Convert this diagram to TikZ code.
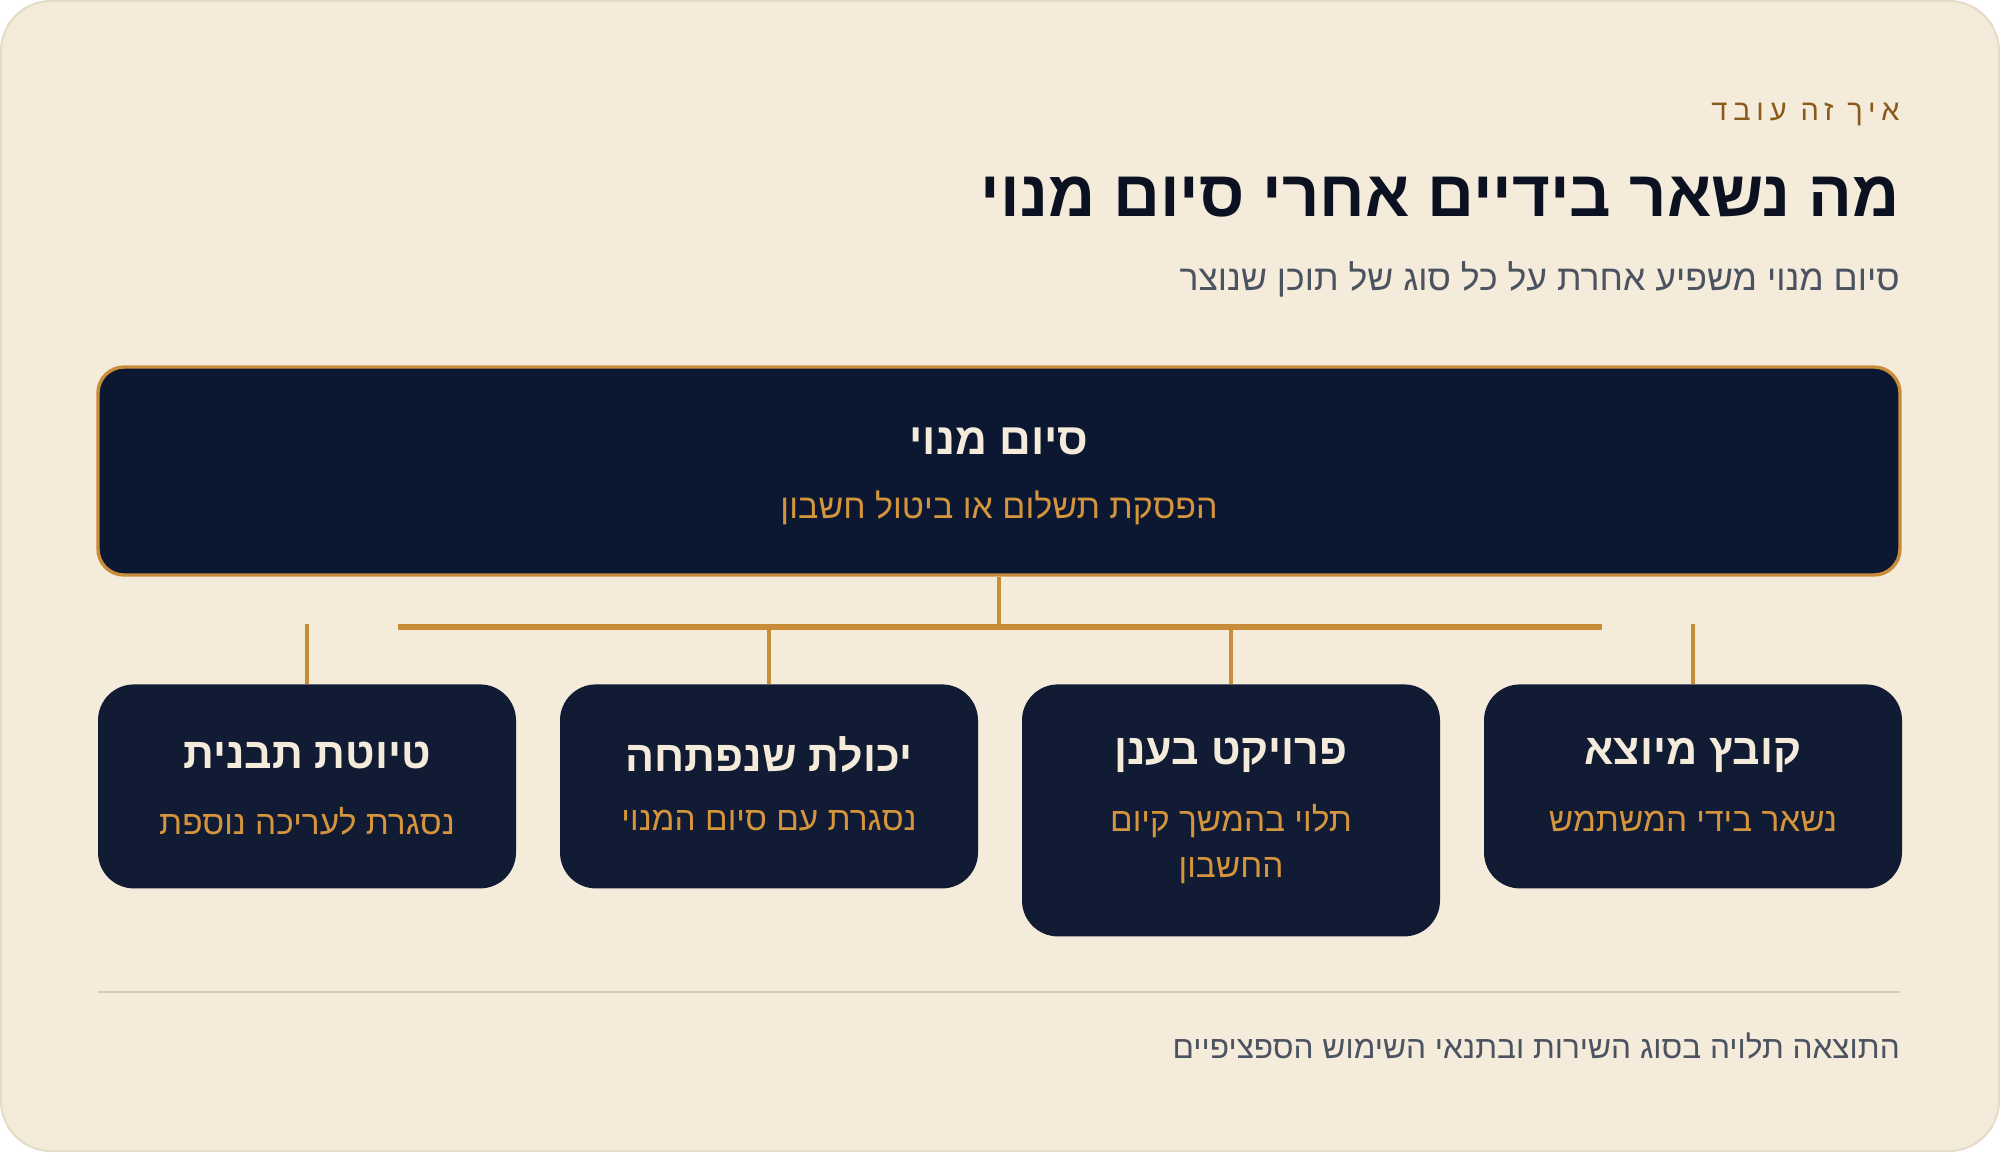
\documentclass[tikz,border=0pt]{standalone}
\usepackage{fontspec}
\usepackage{tikz}
\TeXXeTstate=1
\newfontfamily\hebfont[Script=Hebrew]{Liberation Sans}
\newfontfamily\hebspaced[Script=Hebrew,LetterSpace=20]{Liberation Sans}
\newcommand{\heb}[1]{{\hebfont\beginR #1\endR}}
\definecolor{cardbg}{HTML}{F4EBDB}
\definecolor{cardline}{HTML}{E6DCC6}
\definecolor{navy}{HTML}{0C1832}
\definecolor{navylight}{HTML}{111B33}
\definecolor{gold}{HTML}{C98D3A}
\definecolor{goldtext}{HTML}{D4953C}
\definecolor{cream}{HTML}{F4EBDB}
\definecolor{ink}{HTML}{0B1120}
\definecolor{brown}{HTML}{8A5A1A}
\definecolor{slate}{HTML}{4B5260}
\definecolor{rule}{HTML}{D3CBBC}
\def\boxw{209pt}

\begin{document}
\begin{tikzpicture}[x=0.5pt, y=-0.5pt,
    mainbox/.style={draw=gold, line width=1.7pt, fill=navy, rounded corners=13pt,
        minimum width=901pt, minimum height=104pt},
    itembox/.style={fill=navylight, rounded corners=18pt, anchor=north,
        minimum width=\boxw, minimum height=102pt},
    itemtitle/.style={text=cream, font=\hebfont\bfseries\fontsize{21.5}{26}\selectfont},
    itemnote/.style={text=goldtext, font=\hebfont\fontsize{16.7}{20}\selectfont},
    headtext/.style={anchor=east, inner sep=0pt},
    link/.style={draw=gold, line width=2pt}]
    \useasboundingbox (0,0) rectangle (2000,1152);
    \draw[fill=cardbg, draw=cardline, line width=1pt, rounded corners=25pt] (1,1) rectangle (1999,1151);

    % header
    \node[headtext, text=brown, font=\hebspaced\fontsize{14.5}{17}\selectfont] (eyebrow) at (1900,114) {{\hebspaced\beginR איך זה עובד\endR}};
    \node[headtext, text=ink, font=\hebfont\bfseries\fontsize{32.5}{38}\selectfont] (title) at (1900,197) {\heb{מה נשאר בידיים אחרי סיום מנוי}};
    \node[headtext, text=slate, font=\hebfont\fontsize{17.8}{21}\selectfont] (subtitle) at (1900,279) {\heb{סיום מנוי משפיע אחרת על כל סוג של תוכן שנוצר}};

    % main box
    \node[mainbox] (endbox) at (999,471) {};
    \node[itemtitle, font=\hebfont\bfseries\fontsize{22}{26}\selectfont] (endtitle) at (999,441) {\heb{סיום מנוי}};
    \node[itemnote, font=\hebfont\fontsize{17}{20}\selectfont] (endnote) at (999,508) {\heb{הפסקת תשלום או ביטול חשבון}};

    % item boxes
    \node[itembox] (draft) at (307,684) {};
    \node[itembox] (power) at (769,684) {};
    \node[itembox, minimum height=126pt] (cloud) at (1231,684) {};
    \node[itembox] (output) at (1693,684) {};

    \node[itemtitle] (drafttitle) at (307,755) {\heb{טיוטת תבנית}};
    \node[itemnote] (draftnote) at (307,821) {\heb{נסגרת לעריכה נוספת}};
    \node[itemtitle] (powertitle) at (769,755) {\heb{יכולת שנפתחה}};
    \node[itemnote] (powernote) at (769,821) {\heb{נסגרת עם סיום המנוי}};
    \node[itemtitle] (cloudtitle) at (1231,755) {\heb{פרויקט בענן}};
    \node[itemnote] (cloudnote) at (1231,821) {\heb{תלוי בהמשך קיום}};
    \node[itemnote] (cloudnote2) at (1231,871) {\heb{החשבון}};
    \node[itemtitle] (outputtitle) at (1693,755) {\heb{קובץ מיוצא}};
    \node[itemnote] (outputnote) at (1693,821) {\heb{נשאר בידי המשתמש}};

    % connectors
    \coordinate (hub) at (999,627);
    \coordinate (barleft) at (398,627);
    \coordinate (barright) at (1602,627);
    \draw[link] (endbox) -- (hub);
    \draw[link, line width=3pt] (barleft) -- (barright);
    \foreach \b/\x in {draft/307, power/769, cloud/1231, output/1693} {
        \coordinate (\b top) at (\x,624);
        \draw[link] (\b top) -- (\b.north);
    }

    % footer
    \coordinate (ruleleft) at (98,992);
    \coordinate (ruleright) at (1900,992);
    \draw[rule, line width=1pt] (ruleleft) -- (ruleright);
    \node[headtext, text=slate, font=\hebfont\fontsize{15.8}{19}\selectfont] (footer) at (1900,1046) {\heb{התוצאה תלויה בסוג השירות ובתנאי השימוש הספציפיים}};
\end{tikzpicture}
\end{document}
